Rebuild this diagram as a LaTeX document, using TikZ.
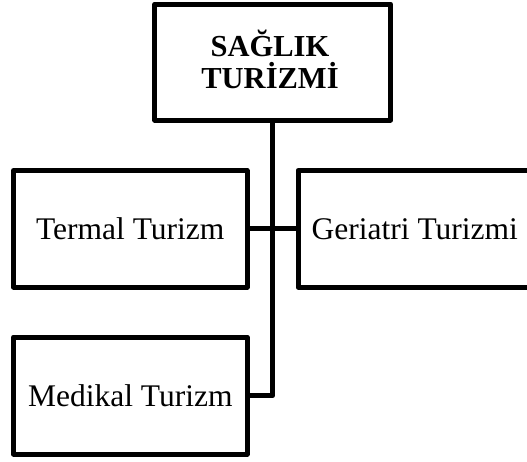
\documentclass[tikz,border=0pt]{standalone}
\usepackage{fontspec}
\setmainfont{Liberation Serif}
\begin{document}
\begin{tikzpicture}[x=1pt,y=-1pt,
  card/.style={draw=black, line width=5pt, line join=round, fill=white,
    rectangle, inner sep=0pt, minimum width=233.5pt, minimum height=116.5pt,
    font=\fontsize{31.5}{35}\selectfont},
  headcard/.style={card, minimum width=235.7pt, minimum height=116pt},
  headtext/.style={align=center, inner sep=0pt,
    font=\fontsize{30.5}{32}\selectfont\bfseries},
  link/.style={draw=black, line width=5pt, line join=round}]
  \clip (0,0) rectangle (527,461);
  \fill[white] (0,0) rectangle (527,461);

  % title box and the three branches
  \node[headcard] (head) at (272.8,62) {};
  \node[headtext] (headlbl) at (270,59) {SAĞLIK\\TURİZMİ};
  \node[card] (termal) at (130.25,228.75) {Termal Turizm};
  \node[card] (geri) at (414.75,228.75) {Geriatri Turizmi};
  \node[card, minimum height=117pt] (medi) at (130.25,395.5) {Medikal Turizm};

  % connectors
  \path[link] (head.south) |- (medi.east);
  \path[link] (termal.east) -- (geri.west);
\end{tikzpicture}
\end{document}
